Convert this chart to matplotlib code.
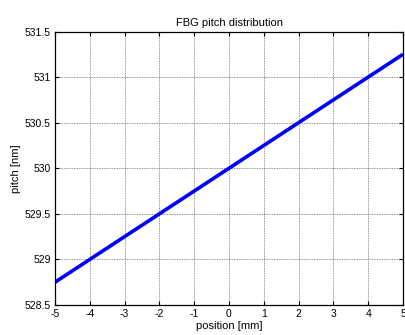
import matplotlib
matplotlib.use("Agg")
import matplotlib.pyplot as plt

position = [-5, 5]
pitch = [528.75, 531.25]
xticks = [-5, -4, -3, -2, -1, 0, 1, 2, 3, 4, 5]
yticks = [528.5, 529, 529.5, 530, 530.5, 531, 531.5]
ytick_labels = ["528.5", "529", "529.5", "530", "530.5", "531", "531.5"]

plt.rcParams['font.family'] = ['Liberation Sans', 'DejaVu Sans']
plt.rcParams['axes.unicode_minus'] = False
fig = plt.figure(figsize=(4.05, 3.35), dpi=100)
ax = fig.add_axes([55/405, 1-305/335, (403-55)/405, (305-31.5)/335])
ax.plot(position, pitch, color=(0, 0, 1), lw=2.6, solid_capstyle='butt')
ax.set_xlim(-5, 5)
ax.set_ylim(528.5, 531.5)
ax.set_xticks(xticks)
ax.set_yticks(yticks)
ax.set_yticklabels(ytick_labels)
ax.grid(True, color='#707070', linestyle=(0, (1, 1)), linewidth=0.6)
ax.tick_params(direction='in', top=True, right=True, labelsize=7.5, length=3, width=0.8, pad=3)
for s in ax.spines.values():
    s.set_linewidth(0.9)
ax.set_title("FBG pitch distribution", fontsize=8, pad=4)
ax.set_xlabel("position [mm]", fontsize=8, labelpad=1)
ax.set_ylabel("pitch [nm]", fontsize=8, labelpad=3)
fig.savefig("out.png", dpi=100)
